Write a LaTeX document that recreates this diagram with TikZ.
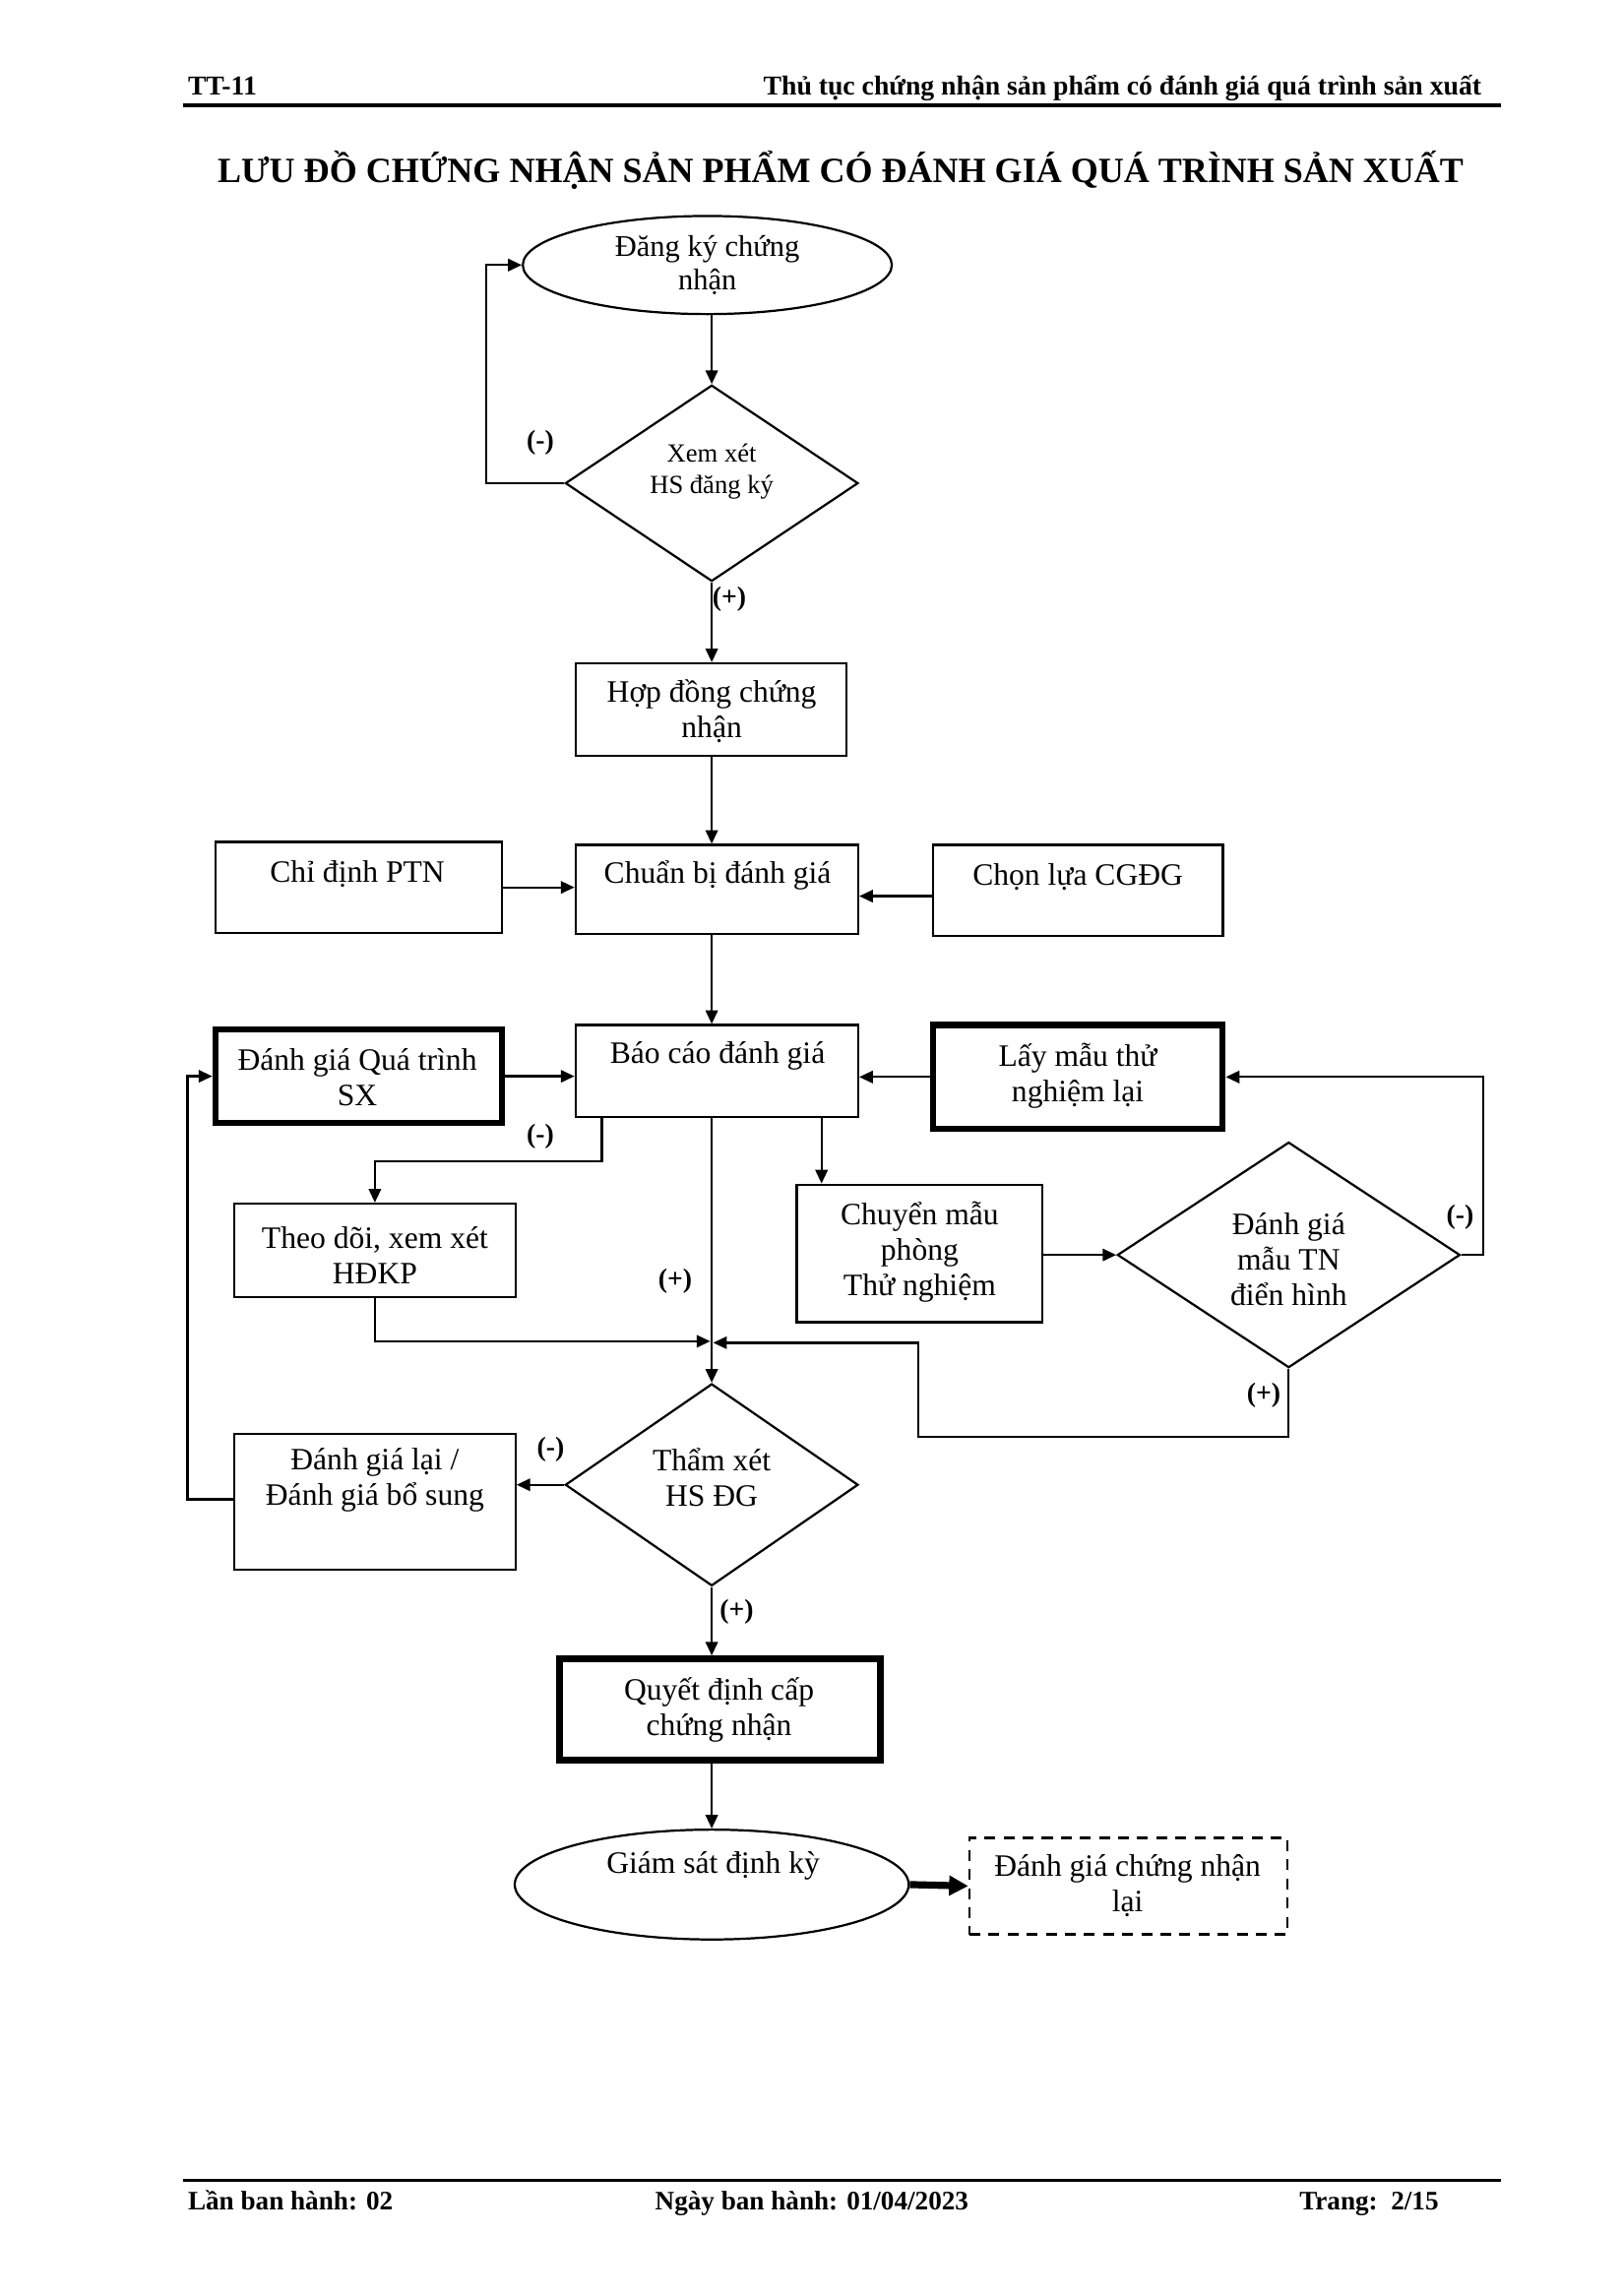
\documentclass[tikz,border=0pt]{standalone}
\usepackage{fontspec}
\setmainfont{Liberation Serif}
\usetikzlibrary{shapes.geometric,arrows.meta,fit}
\def\un{0.537pt}
\begin{document}
\begin{tikzpicture}[x=0.537pt,y=-0.537pt,
 box/.style={draw,line width=0.8pt,inner sep=0pt},
 tbox/.style={draw,line width=2.2pt,inner sep=0pt},
 dbox/.style={draw,line width=0.9pt,dash pattern=on 4pt off 3pt,inner sep=0pt},
 txt/.style={font=\fontsize{11.4}{13}\selectfont,align=center,inner sep=0pt},
 dtxt/.style={font=\fontsize{9.6}{11.3}\selectfont,align=center,inner sep=0pt},
 pm/.style={font=\bfseries\fontsize{10}{12}\selectfont,inner sep=0pt},
 hd/.style={font=\bfseries\fontsize{10}{12}\selectfont,inner sep=0pt},
 ft/.style={font=\bfseries\fontsize{9.8}{12}\selectfont,inner sep=0pt},
 arr/.style={line width=0.8pt,-{Triangle[length=5pt,width=4.5pt]}},
 tarr/.style={line width=2.6pt,-{Triangle[length=7pt,width=7pt]}},
]
\useasboundingbox (0,0) rectangle (1108,1568);
\fill[white] (0,0) rectangle (1108,1568);

% header / footer
\node[hd,anchor=base west] (hl) at (128,65) {TT-11};
\node[hd,anchor=base east] (hr) at (1012,65) {Thủ tục chứng nhận sản phẩm có đánh giá quá trình sản xuất};
\coordinate (h1) at (125,72); \coordinate (h2) at (1025,72);
\draw[line width=1.2pt] (h1) -- (h2);
\node[font=\bfseries\fontsize{13}{15}\selectfont,anchor=base,inner sep=0pt] (title) at (574,125) {LƯU ĐỒ CHỨNG NHẬN SẢN PHẨM CÓ ĐÁNH GIÁ QUÁ TRÌNH SẢN XUẤT};
\coordinate (f1) at (125,1489); \coordinate (f2) at (1025,1489);
\draw[line width=1.2pt] (f1) -- (f2);
\node[ft,anchor=base west] (fl) at (128,1509) {Lần ban hành: 02};
\node[ft,anchor=base west] (fm) at (447,1509) {Ngày ban hành: 01/04/2023};
\node[ft,anchor=base west] (fr) at (887,1509) {Trang:\ \ 2/15};

% column of the main flow
\coordinate (col) at (486,0);

% shapes
\node[ellipse,draw,line width=0.8pt,inner sep=0pt,minimum width=252*\un,minimum height=67*\un] (dk) at (483,181) {};
\node[txt,font=\fontsize{11}{12.4}\selectfont] (dkt) at (483,181) {Đăng ký chứng\\nhận};
\node[diamond,draw,line width=0.8pt,inner sep=0pt,minimum width=200*\un,minimum height=134*\un] (xx) at (486,330) {};
\node[dtxt] (xxt) at (486,322) {Xem xét\\HS đăng ký};

\node[box,fit={(393,453) (578,516)}] (hdg) {};
\node[txt] (hdgt) at (486,486) {Hợp đồng chứng\\nhận};
\node[box,fit={(147,575) (343,637)}] (cd) {};
\node[txt] (cdt) at (244,597) {Chỉ định PTN};
\node[box,fit={(393,577) (586,638)}] (cb) {};
\node[txt] (cbt) at (490,598) {Chuẩn bị đánh giá};
\node[box,fit={(637,577) (835,639)}] (cl) {};
\node[txt] (clt) at (736,599) {Chọn lựa CGĐG};

\node[box,fit={(393,700) (586,763)}] (bc) {};
\node[txt] (bct) at (490,721) {Báo cáo đánh giá};
\node[tbox,fit={(147,703) (343,767)}] (qt) {};
\node[txt] (qtt) at (244,736) {Đánh giá Quá trình\\SX};
\node[tbox,fit={(637,700) (835,771)}] (lm) {};
\node[txt] (lmt) at (736,735) {Lấy mẫu thử\\nghiệm lại};

\node[box,fit={(160,822) (352,886)}] (td) {};
\node[txt] (tdt) at (256,857) {Theo dõi, xem xét\\HĐKP};
\node[box,fit={(544,809) (712,903)}] (cm) {};
\node[txt] (cmt) at (628,855) {Chuyển mẫu\\phòng\\Thử nghiệm};
\node[diamond,draw,line width=0.8pt,inner sep=0pt,minimum width=234*\un,minimum height=154*\un] (dg) at (880,857) {};
\node[txt] (dgt) at (880,860) {Đánh giá\\mẫu TN\\điển hình};

\node[diamond,draw,line width=0.8pt,inner sep=0pt,minimum width=200*\un,minimum height=138*\un] (tx) at (486,1014) {};
\node[txt] (txt1) at (486,1009) {Thẩm xét\\HS ĐG};
\node[box,fit={(160,979) (352,1072)}] (dl) {};
\node[txt] (dlt) at (256,1011) {Đánh giá lại /\\Đánh giá bổ sung};

\node[tbox,line width=2.6pt,fit={(382,1133) (601,1202)}] (qd) {};
\node[txt] (qdt) at (491,1168) {Quyết định cấp\\chứng nhận};
\node[ellipse,draw,line width=0.8pt,inner sep=0pt,minimum width=269*\un,minimum height=75*\un] (gs) at (486,1287) {};
\node[txt] (gst) at (487,1274) {Giám sát định kỳ};
\node[dbox,fit={(662,1255) (879,1321)}] (dc) {};
\node[txt] (dct) at (770,1288) {Đánh giá chứng nhận\\lại};

% connectors
\draw[arr] (col |- dk.south) -- (xx.north);
\coordinate (c1) at (332,327);
\draw[arr] (xx.west) -- (xx.west -| c1) |- (dk.west);
\node[pm] (m1) at (369,302) {(-)};
\draw[arr] (xx.south) -- (col |- hdg.north);
\node[pm] (p1) at (498,409) {(+)};
\draw[arr] (col |- hdg.south) -- (col |- cb.north);
\draw[arr] (cd.east) -- (cd.east -| cb.west);
\coordinate (c2) at (637,612);
\draw[arr] (c2) -- (c2 -| cb.east);
\draw[arr] (col |- cb.south) -- (col |- bc.north);
\draw[arr] (qt.east) -- (qt.east -| bc.west);
\draw[arr] (lm.west) -- (lm.west -| bc.east);

\coordinate (c3) at (411,763); \coordinate (c4) at (411,793);
\draw[arr] (c3) -- (c4) -| (td.north);
\node[pm] (m2) at (369,776) {(-)};
\coordinate (jn) at (485,916);
\draw[arr] (td.south) |- (jn);
\draw[arr] (col |- bc.south) -- (tx.north);
\node[pm] (p2) at (461,875) {(+)};
\coordinate (c5) at (561,763);
\draw[arr] (c5) -- (c5 |- cm.north);
\draw[arr] (cm.east |- dg.west) -- (dg.west);
\coordinate (c6) at (1013,857);
\draw[arr] (dg.east) -- (c6) |- (lm.east);
\node[pm] (m3) at (997,831) {(-)};
\coordinate (c7) at (627,981); \coordinate (jn2) at (487,917);
\draw[arr] (dg.south) |- (c7) |- (jn2);
\node[pm] (p3) at (863,953) {(+)};

\draw[arr] (tx.west) -- (tx.west -| dl.east);
\node[pm] (m4) at (376,990) {(-)};
\coordinate (c8) at (128,1024);
\draw[arr] (c8 -| dl.west) -- (c8) |- (qt.west);
\draw[arr] (tx.south) -- (tx.south |- qd.north);
\node[pm] (p4) at (503,1101) {(+)};
\draw[arr] (col |- qd.south) -- (gs.north);
\draw[tarr] (gs.east) -- (dc.west);
\end{tikzpicture}
\end{document}
